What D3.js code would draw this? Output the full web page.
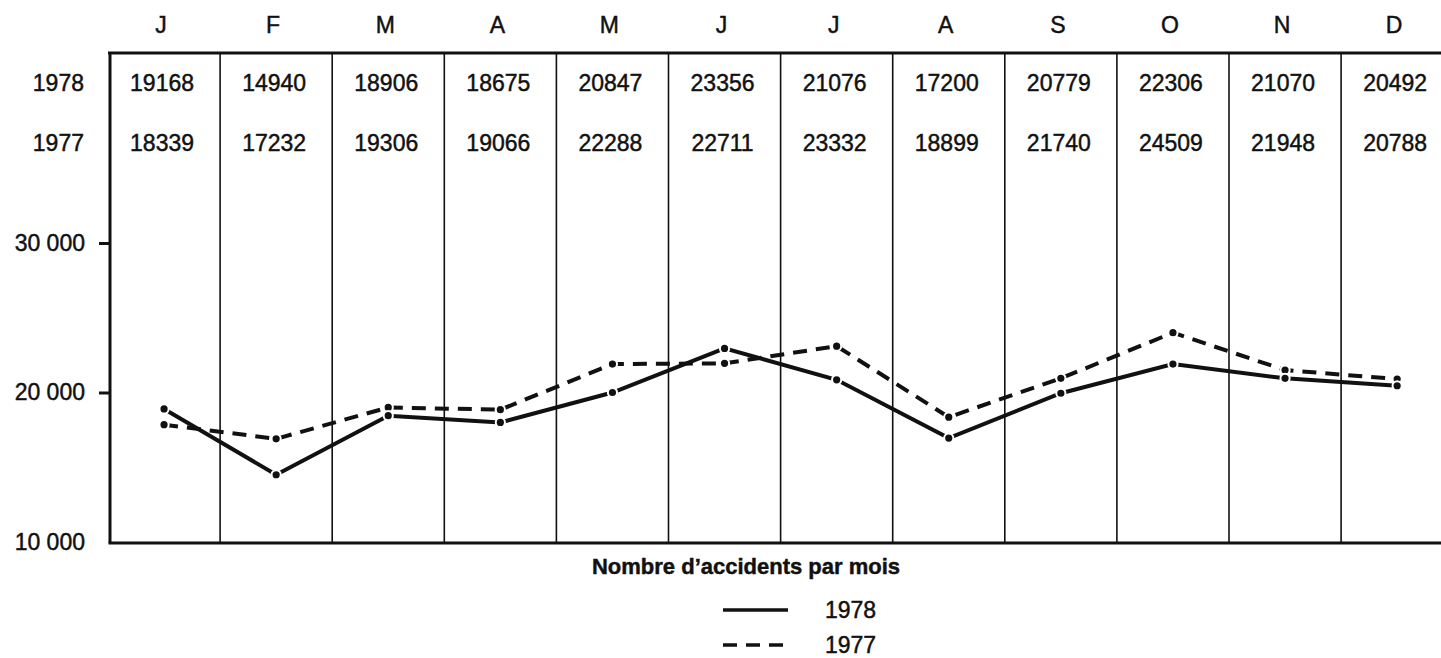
<!DOCTYPE html>
<html>
<head>
<meta charset="utf-8">
<script src="https://cdn.jsdelivr.net/npm/d3@7"></script>
<style>
  body { margin: 0; background: #fff; }
  svg { display: block; font-family: "Liberation Sans", Arial, Helvetica, sans-serif; }
  text { fill: #111; stroke: #111; stroke-width: 0.45px; }
</style>
</head>
<body>
<div id="chart"></div>
<script>
// month initials along the top
var months = ["J", "F", "M", "A", "M", "J", "J", "A", "S", "O", "N", "D"];
// table values (printed)
var table1978 = [19168, 14940, 18906, 18675, 20847, 23356, 21076, 17200, 20779, 22306, 21070, 20492];
var table1977 = [18339, 17232, 19306, 19066, 22288, 22711, 23332, 18899, 21740, 24509, 21948, 20788];
// values as they are plotted on the graph
var plotted1978 = [18900, 14500, 18450, 18000, 20000, 22950, 20850, 16950, 19950, 21900, 20950, 20450];
var plotted1977 = [17850, 16900, 19000, 18850, 21900, 21950, 23100, 18350, 20950, 24000, 21500, 20900];
var yTicks = [10000, 20000, 30000];
var seriesNames = ["1978", "1977"];

var W = 1441, H = 658;
var gridTop = 53, gridBottom = 543, gridLeft = 110;

var svg = d3.select("#chart").append("svg")
    .attr("width", W)
    .attr("height", H);

var x = d3.scaleBand()
    .domain(d3.range(months.length))
    .range([108, 108 + 12 * 112.1])
    .padding(0);

var y = d3.scaleLinear()
    .domain([10000, 30000])
    .range([542, 243]);

var cx = function (i) { return x(i) + x.bandwidth() / 2; };

// month labels
svg.selectAll(".month")
    .data(months)
    .enter().append("text")
    .attr("class", "month")
    .attr("x", function (d, i) { return cx(i) - 3; })
    .attr("y", 25)
    .attr("dy", "0.36em")
    .attr("text-anchor", "middle")
    .style("font-size", "23px")
    .text(function (d) { return d; });

// column separators
svg.selectAll(".sep")
    .data(d3.range(1, months.length))
    .enter().append("line")
    .attr("class", "sep")
    .attr("x1", function (i) { return x(i); })
    .attr("x2", function (i) { return x(i); })
    .attr("y1", gridTop)
    .attr("y2", gridBottom)
    .attr("stroke", "#111")
    .attr("stroke-width", 1.6);

// frame: top line, left axis, bottom line
svg.append("line")
    .attr("x1", 108).attr("x2", W)
    .attr("y1", gridTop).attr("y2", gridTop)
    .attr("stroke", "#111").attr("stroke-width", 3);
svg.append("line")
    .attr("x1", gridLeft).attr("x2", gridLeft)
    .attr("y1", gridTop).attr("y2", gridBottom)
    .attr("stroke", "#111").attr("stroke-width", 3);
svg.append("line")
    .attr("x1", gridLeft - 1.5).attr("x2", W)
    .attr("y1", gridBottom).attr("y2", gridBottom)
    .attr("stroke", "#111").attr("stroke-width", 3);

// table rows
var rows = [table1978, table1977];
var rowY = [83, 143];
rows.forEach(function (vals, r) {
    svg.append("text")
        .attr("x", 84)
        .attr("y", rowY[r])
        .attr("dy", "0.36em")
        .attr("text-anchor", "end")
        .style("font-size", "23px")
        .text(seriesNames[r]);
    svg.selectAll(".cell" + r)
        .data(vals)
        .enter().append("text")
        .attr("class", "cell" + r)
        .attr("x", function (d, i) { return cx(i) - 2; })
        .attr("y", rowY[r])
        .attr("dy", "0.36em")
        .attr("text-anchor", "middle")
        .style("font-size", "23px")
        .text(function (d) { return d; });
});

// y axis
var fmt = function (d) { return d3.format(",")(d).replace(",", " "); };
var yaxis = svg.append("g")
    .attr("transform", "translate(" + gridLeft + ",0)")
    .call(d3.axisLeft(y).tickValues(yTicks).tickSize(11).tickSizeOuter(0).tickPadding(14).tickFormat(fmt));
yaxis.select(".domain").remove();
yaxis.selectAll(".tick line").attr("stroke", "#111").attr("stroke-width", 3)
    .filter(function (d) { return d === 10000; }).remove();
yaxis.selectAll(".tick text")
    .style("font-size", "23px")
    .style("font-family", "'Liberation Sans', Arial, sans-serif")
    .attr("fill", "#111");

// lines
var line = d3.line()
    .x(function (d, i) { return cx(i); })
    .y(function (d) { return y(d); });

var series = [
    { vals: plotted1977, dash: "14,9" },
    { vals: plotted1978, dash: null }
];

series.forEach(function (s) {
    svg.append("path")
        .datum(s.vals)
        .attr("d", line)
        .attr("fill", "none")
        .attr("stroke", "#111")
        .attr("stroke-width", 4)
        .attr("stroke-dasharray", s.dash);
});

series.forEach(function (s) {
    svg.selectAll(null)
        .data(s.vals)
        .enter().append("circle")
        .attr("cx", function (d, i) { return cx(i); })
        .attr("cy", function (d) { return y(d); })
        .attr("r", 4.6)
        .attr("fill", "#111")
        .attr("stroke", "#fff")
        .attr("stroke-width", 2);
});

// title + legend
svg.append("text")
    .attr("x", 746)
    .attr("y", 566)
    .attr("dy", "0.36em")
    .attr("text-anchor", "middle")
    .style("font-size", "22px")
    .style("font-weight", "bold")
    .text("Nombre d\u2019accidents par mois");

var legend = [
    { name: "1978", dash: null, y: 610 },
    { name: "1977", dash: "14,9", y: 645 }
];
legend.forEach(function (l) {
    svg.append("line")
        .attr("x1", 723).attr("x2", 788)
        .attr("y1", l.y).attr("y2", l.y)
        .attr("stroke", "#111")
        .attr("stroke-width", 3.5)
        .attr("stroke-dasharray", l.dash);
    svg.append("text")
        .attr("x", 825)
        .attr("y", l.y)
        .attr("dy", "0.36em")
        .style("font-size", "23px")
        .text(l.name);
});
</script>
</body>
</html>
